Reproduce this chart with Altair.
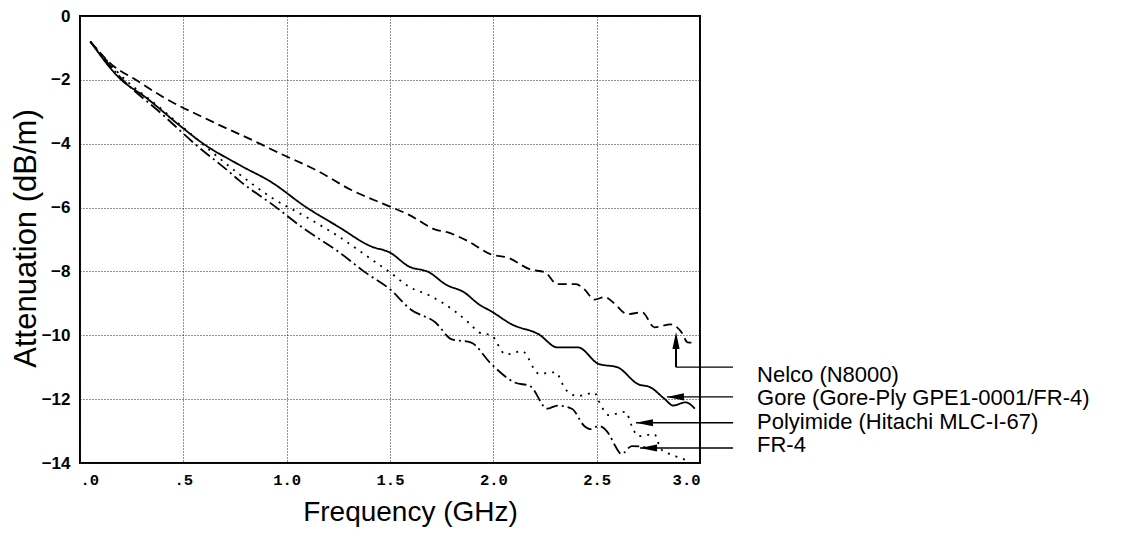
import altair as alt
import pandas as pd

# ---- data ----
nelco_x = [0.05, 0.155, 0.27, 0.40, 0.64, 0.88, 0.93, 1.155, 1.31, 1.50, 1.59, 1.72, 1.78, 1.88, 1.99, 2.07, 2.18, 2.25, 2.31, 2.40, 2.44, 2.49, 2.54, 2.58, 2.65, 2.72, 2.78, 2.86, 2.91, 2.94, 2.98]
nelco_y = [-0.8, -1.53, -2.0, -2.53, -3.31, -4.03, -4.19, -4.87, -5.44, -5.97, -6.22, -6.69, -6.78, -7.06, -7.47, -7.57, -7.94, -8.03, -8.4, -8.4, -8.56, -8.88, -8.8, -8.97, -9.34, -9.28, -9.75, -9.66, -9.9, -10.22, -10.24]

gore_x = [0.05, 0.19, 0.32, 0.49, 0.59, 0.77, 0.93, 1.09, 1.25, 1.41, 1.50, 1.59, 1.69, 1.77, 1.86, 1.93, 1.99, 2.09, 2.22, 2.31, 2.41, 2.51, 2.60, 2.70, 2.76, 2.83, 2.87, 2.93, 2.975]
gore_y = [-0.8, -1.94, -2.56, -3.47, -3.97, -4.66, -5.22, -5.97, -6.6, -7.22, -7.41, -7.84, -8.03, -8.41, -8.66, -9.03, -9.25, -9.66, -9.97, -10.38, -10.38, -10.9, -11.0, -11.53, -11.63, -12.0, -12.2, -12.1, -12.3]

poly_x = [0.05, 0.22, 0.37, 0.49, 0.77, 0.93, 1.09, 1.25, 1.41, 1.50, 1.59, 1.70, 1.82, 1.89, 1.93, 1.99, 2.06, 2.14, 2.22, 2.30, 2.35, 2.41, 2.49, 2.51, 2.56, 2.64, 2.67, 2.70, 2.78, 2.81, 2.88, 2.95]
poly_y = [-0.8, -2.0, -2.78, -3.44, -4.95, -5.7, -6.28, -6.9, -7.62, -8.03, -8.47, -8.78, -9.28, -9.66, -9.91, -10.0, -10.6, -10.5, -11.2, -11.16, -11.7, -11.9, -11.8, -12.06, -12.5, -12.4, -12.84, -13.16, -13.1, -13.56, -13.78, -13.94]

fr4_x = [0.05, 0.20, 0.40, 0.56, 0.72, 0.77, 0.93, 1.09, 1.25, 1.38, 1.50, 1.60, 1.72, 1.80, 1.89, 1.99, 2.10, 2.18, 2.26, 2.31, 2.38, 2.44, 2.47, 2.51, 2.56, 2.59, 2.62, 2.67, 2.73, 2.78]
fr4_y = [-0.8, -1.95, -3.09, -4.03, -4.87, -5.15, -5.9, -6.69, -7.38, -8.03, -8.56, -9.19, -9.6, -10.13, -10.22, -10.9, -11.47, -11.6, -12.3, -12.2, -12.3, -12.84, -12.94, -12.84, -13.1, -13.47, -13.72, -13.47, -13.5, -13.56]

series_names = ["Nelco (N8000)", "Gore (Gore-Ply GPE1-0001/FR-4)", "Polyimide (Hitachi MLC-I-67)", "FR-4"]
series_dash = [[9, 5], [1, 0], [2, 6], [12, 4, 2, 4]]

x_ticks = [0, 0.5, 1.0, 1.5, 2.0, 2.5, 3.0]
y_ticks = [0, -2, -4, -6, -8, -10, -12, -14]

# annotation arrows (tip positions in data units) and labels
arrow_tip_x = [2.884, 2.84, 2.69, 2.71]
arrow_tip_y = [-9.9, -11.93, -12.74, -13.53]
arrow_shaft_y = [-11.0, -11.93, -12.74, -13.53]
arrow_end_x = 3.16
label_x = 3.276
label_y = [-11.24, -11.96, -12.71, -13.44]

# ---- build ----
xs = alt.Scale(domain=[0, 3], nice=False)
ys = alt.Scale(domain=[-14, 0], nice=False)

x_axis = alt.Axis(values=x_ticks, grid=True, gridDash=[1, 2], gridColor="#222", gridWidth=1,
                  domain=False, ticks=False, labelPadding=9,
                  labelExpr="datum.value < 1 ? '.' + format(datum.value*10, 'd') : format(datum.value, '.1f')",
                  labelFont="Liberation Mono", labelFontWeight="bold", labelFontSize=15.5, labelColor="black",
                  title="Frequency (GHz)", titleFont="Liberation Sans", titleFontSize=28,
                  titleFontWeight="normal", titleColor="black", titleX=330, titleY=57,
                  titleBaseline="alphabetic", titleAlign="center")
y_axis = alt.Axis(values=y_ticks, grid=True, gridDash=[1, 2], gridColor="#222", gridWidth=1,
                  domain=False, ticks=False, labelPadding=10, format="d",
                  labelFont="Liberation Sans", labelFontWeight="bold", labelFontSize=17, labelColor="black",
                  title="Attenuation (dB/m)", titleFont="Liberation Sans", titleFontSize=31,
                  titleFontWeight="normal", titleColor="black", titleX=-54, titleY=222,
                  titleAngle=-90, titleBaseline="middle", titleAlign="center")


def X(field="x"):
    return alt.X(f"{field}:Q", scale=xs, axis=x_axis)


def Y(field="y"):
    return alt.Y(f"{field}:Q", scale=ys, axis=y_axis)


layers = []
for name, sx, sy, dash in zip(series_names, [nelco_x, gore_x, poly_x, fr4_x],
                              [nelco_y, gore_y, poly_y, fr4_y], series_dash):
    df = pd.DataFrame({"x": sx, "y": sy, "series": name})
    layers.append(alt.Chart(df).mark_line(color="black", strokeWidth=1.8, strokeDash=dash,
                                          interpolate="monotone").encode(
        x=X(), y=Y(), order="x:Q"))

# arrows
px_per_x = 620 / 3.0
px_per_y = 447 / 14.0
head_half = 8.5
shaft = pd.DataFrame({
    "x": [arrow_end_x] * 4,
    "x2": arrow_tip_x,
    "y": arrow_shaft_y,
})
layers.append(alt.Chart(shaft).mark_rule(color="black", strokeWidth=1.3).encode(
    x=X(), x2="x2:Q", y=Y()))
vert = pd.DataFrame({"x": [arrow_tip_x[0]], "y": [arrow_shaft_y[0]], "y2": [arrow_tip_y[0] - 0.3]})
layers.append(alt.Chart(vert).mark_rule(color="black", strokeWidth=2).encode(
    x=X(), y=Y(), y2="y2:Q"))

heads = pd.DataFrame({
    "x": [arrow_tip_x[0]] + [t + head_half / px_per_x for t in arrow_tip_x[1:]],
    "y": [arrow_tip_y[0] - head_half / px_per_y] + arrow_tip_y[1:],
    "angle": [90, 0, 0, 0],
})
layers.append(alt.Chart(heads).mark_point(shape="M-1,0 L1,-0.42 L1,0.42 Z", filled=True, size=289,
                                           color="black", opacity=1, strokeWidth=0).encode(
    x=X(), y=Y(), angle=alt.Angle("angle:Q", scale=None)))

labels = pd.DataFrame({"x": [label_x] * 4, "y": label_y, "t": series_names})
layers.append(alt.Chart(labels).mark_text(align="left", baseline="middle", font="Liberation Sans",
                                          fontSize=22, color="black").encode(
    x=X(), y=Y(), text="t:N"))

chart = alt.layer(*layers).properties(
    width=620, height=447,
    autosize=alt.AutoSizeParams(type="none"),
    padding={"left": 72, "top": 8, "right": 405, "bottom": 70},
    background="white",
).configure_view(stroke="black", strokeWidth=2)

chart.save("out.html", embed_options={"renderer": "svg", "actions": False})
